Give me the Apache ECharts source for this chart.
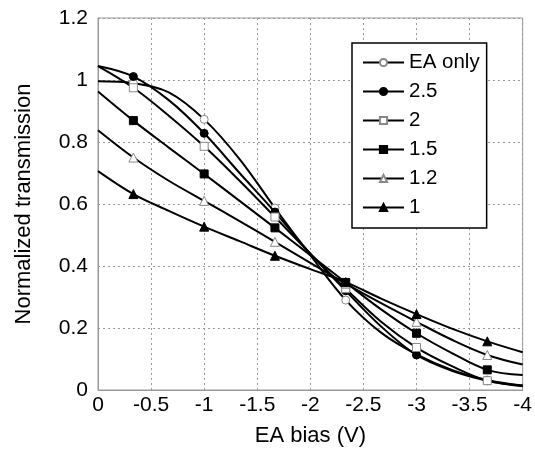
<!DOCTYPE html>
<html><head><meta charset="utf-8">
<script src="https://cdn.jsdelivr.net/npm/echarts@6/dist/echarts.min.js"></script>
<style>html,body{margin:0;padding:0;background:#fff}#c{width:535px;height:452px}</style>
</head><body><div id="c"></div>
<script>
// EA bias (V) sample positions
const biasV = [0, -1/3, -2/3, -1, -4/3, -5/3, -2, -7/3, -8/3, -3, -10/3, -11/3, -4];
// indices at which a marker is drawn
const markerIdx = [1, 3, 5, 7, 9, 11];

const seriesNames = ['EA only', '2.5', '2', '1.5', '1.2', '1'];
const eaOnly = [0.996, 0.99, 0.96, 0.873, 0.745, 0.587, 0.435, 0.29, 0.185, 0.115, 0.065, 0.032, 0.013];
const s25    = [1.045, 1.011, 0.935, 0.828, 0.70, 0.574, 0.44, 0.32, 0.205, 0.113, 0.062, 0.03, 0.012];
const s2     = [1.045, 0.975, 0.885, 0.786, 0.675, 0.558, 0.44, 0.327, 0.22, 0.137, 0.077, 0.03, 0.015];
const s15    = [0.963, 0.869, 0.782, 0.697, 0.61, 0.523, 0.435, 0.347, 0.26, 0.183, 0.119, 0.065, 0.048];
const s12    = [0.838, 0.75, 0.675, 0.61, 0.545, 0.478, 0.41, 0.343, 0.28, 0.22, 0.162, 0.113, 0.082];
const s1     = [0.706, 0.632, 0.578, 0.527, 0.48, 0.433, 0.39, 0.348, 0.295, 0.245, 0.198, 0.157, 0.122];
const allValues = [eaOnly, s25, s2, s15, s12, s1];

const symbols = ['circle', 'circle', 'rect', 'rect', 'triangle', 'triangle'];
const filled  = [false, true, false, true, false, true];

const FONT = 'Liberation Sans, Arial, sans-serif';
const chart = echarts.init(document.getElementById('c'));

const series = allValues.map((vals, si) => ({
  name: seriesNames[si],
  type: 'line',
  smooth: 0.35,
  symbol: symbols[si],
  symbolSize: symbols[si] === 'triangle' ? 9 : 8,
  showAllSymbol: true,
  lineStyle: { color: '#000', width: 2 },
  itemStyle: filled[si]
    ? { color: '#000', borderColor: '#000', borderWidth: 1 }
    : { color: '#fff', borderColor: '#888', borderWidth: 1 },
  emphasis: { disabled: true },
  z: 2 + si,
  data: vals.map((v, i) => markerIdx.includes(i)
    ? { value: [biasV[i], v] }
    : { value: [biasV[i], v], symbol: 'none' })
}));

chart.setOption({
  animation: false,
  backgroundColor: '#fff',
  textStyle: { fontFamily: FONT },
  grid: { left: 98, right: 9, top: 18, bottom: 60, show: true, borderColor: '#999', borderWidth: 1, backgroundColor: 'transparent' },
  legend: {
    orient: 'vertical',
    left: 352, top: 43,
    padding: [9, 7, 10, 10],
    itemWidth: 41, itemHeight: 9, itemGap: 8,
    backgroundColor: '#fff',
    borderColor: '#000', borderWidth: 1.5,
    textStyle: { fontSize: 20.5, color: '#000', fontFamily: FONT, lineHeight: 20 },
    data: seriesNames
  },
  xAxis: {
    type: 'value', min: -4, max: 0, interval: 0.5, inverse: true,
    name: 'EA bias (V)', nameLocation: 'middle', nameGap: 35,
    nameTextStyle: { fontSize: 22, color: '#000', fontFamily: FONT },
    axisLine: { show: true, lineStyle: { color: '#999', width: 1 } },
    axisTick: { show: false },
    axisLabel: { fontSize: 21, color: '#000', margin: 5, fontFamily: FONT },
    splitLine: { show: true, lineStyle: { color: '#999', type: [2, 3], width: 1 } }
  },
  yAxis: {
    type: 'value', min: 0, max: 1.2, interval: 0.2,
    name: 'Normalized transmission', nameLocation: 'middle', nameGap: 63,
    nameTextStyle: { fontSize: 22, color: '#000', fontFamily: FONT },
    axisLine: { show: true, lineStyle: { color: '#999', width: 1 } },
    axisTick: { show: false },
    axisLabel: { fontSize: 21, color: '#000', margin: 10, fontFamily: FONT },
    splitLine: { show: true, lineStyle: { color: '#999', type: [2, 3], width: 1 } }
  },
  series: series
});
</script></body></html>
